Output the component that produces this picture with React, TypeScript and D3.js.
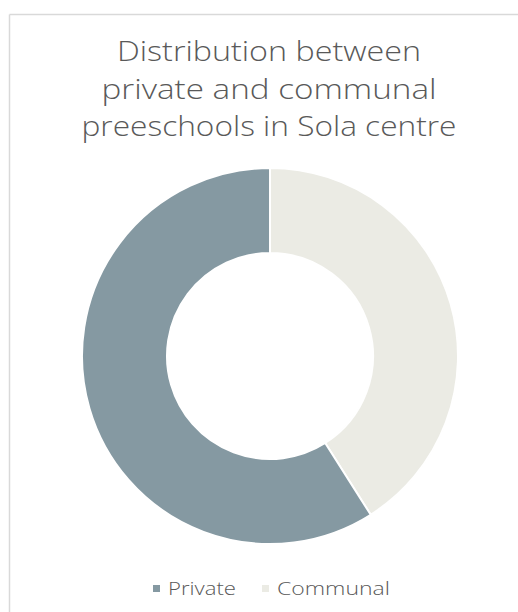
import React from "react";
import * as d3 from "d3";

const categories = ["Private", "Communal"];
const values = [59, 41];
const titleLines = ["Distribution between", "private and communal", "preeschools in Sola centre"];
const colors = ["#8599a2", "#ebebe4"];

export default function App() {
  const W = 518, H = 612;
  const cx = 270, cy = 356, rOuter = 188, rInner = 103;
  // Communal starts at top going clockwise, then Private
  const order = [1, 0];
  const pie = d3.pie<number>().sort(null).value((i) => values[i]);
  const arcs = pie(order);
  const arc = d3.arc<d3.PieArcDatum<number>>().innerRadius(rInner).outerRadius(rOuter);
  const titleWidths = [304, 335, 375];
  const titleBase = [61, 98.5, 136];
  const font = "'Open Sans', 'DejaVu Sans', sans-serif";
  return (
    <svg width={W} height={H} style={{ position: "absolute", left: 0, top: 0, background: "#fff" }}>
      <rect x={0} y={0} width={W} height={H} fill="#fff" />
      <line x1={9.5} y1={14.5} x2={W} y2={14.5} stroke="#d9d9d9" strokeWidth={1.5} />
      <line x1={9.5} y1={14.5} x2={9.5} y2={H} stroke="#d9d9d9" strokeWidth={1.5} />
      {titleLines.map((t, i) => (
        <text key={i} x={cx - 1} y={titleBase[i]} textAnchor="middle" fontFamily={font} fontSize={27}
          fontWeight={300} fill="#595959" textLength={titleWidths[i]} lengthAdjust="spacingAndGlyphs">{t}</text>
      ))}
      <g transform={`translate(${cx},${cy})`}>
        {arcs.map((a) => (
          <path key={a.data} d={arc(a) || ""} fill={colors[a.data]} stroke="#fff" strokeWidth={2} strokeLinejoin="round" />
        ))}
      </g>
      <g fontFamily={font} fontSize={19} fontWeight={300} fill="#595959">
        <rect x={153} y={585} width={7} height={7} fill={colors[0]} />
        <text x={168} y={595} textLength={68} lengthAdjust="spacingAndGlyphs">{categories[0]}</text>
        <rect x={262} y={585} width={7} height={7} fill={colors[1]} />
        <text x={277} y={595} textLength={113} lengthAdjust="spacingAndGlyphs">{categories[1]}</text>
      </g>
    </svg>
  );
}
